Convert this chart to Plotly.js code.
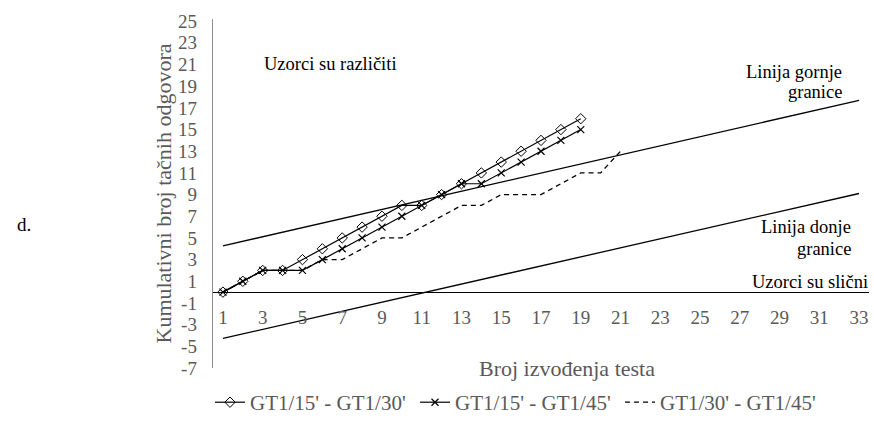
<!DOCTYPE html>
<html>
<head>
<meta charset="utf-8">
<script src="https://cdn.plot.ly/plotly-3.0.1.min.js"></script>
<style>html,body{margin:0;padding:0;background:#fff;}#chart{width:874px;height:428px;}</style>
</head>
<body>
<div id="chart"></div>
<script>
// ---- data ----
const trialsA = [1,2,3,4,5,6,7,8,9,10,11,12,13,14,15,16,17,18,19];
const trialsB = [1,2,3,4,5,6,7,8,9,10,11,12,13,14,15,16,17,18,19,20,21];
const gt15_30 = [0,1,2,2,3,4,5,6,7,8,8,9,10,11,12,13,14,15,16];
const gt15_45 = [0,1,2,2,2,3,4,5,6,7,8,9,10,10,11,12,13,14,15];
const gt30_45 = [0,1,2,2,2,3,3,4,5,5,6,7,8,8,9,9,9,10,11,11,13];
const boundTrials = [1, 33];
const upperBound = [4.27, 17.7];
const lowerBound = [-4.27, 9.1];
const seriesNames = ["GT1/15' - GT1/30'", "GT1/15' - GT1/45'", "GT1/30' - GT1/45'"];
const xTickVals = [1,3,5,7,9,11,13,15,17,19,21,23,25,27,29,31,33];
const yTickVals = [-7,-5,-3,-1,1,3,5,7,9,11,13,15,17,19,21,23,25];

const FONT = "Liberation Serif, Times New Roman, serif";
const GRAY = "#595959";

const traces = [
  {x: boundTrials, y: upperBound, mode: 'lines', line: {color: '#000', width: 1.3}, showlegend: false, hoverinfo: 'skip'},
  {x: boundTrials, y: lowerBound, mode: 'lines', line: {color: '#000', width: 1.3}, showlegend: false, hoverinfo: 'skip'},
  {x: trialsB, y: gt30_45, name: seriesNames[2], mode: 'lines', line: {color: '#000', width: 1.3, dash: '5px,4px'}, legendrank: 3},
  {x: trialsA, y: gt15_45, name: seriesNames[1], mode: 'lines+markers', line: {color: '#000', width: 1.2},
   marker: {symbol: 'x-thin-open', size: 7, color: '#000', line: {color: '#000', width: 1.2}}, legendrank: 2},
  {x: trialsA, y: gt15_30, name: seriesNames[0], mode: 'lines+markers', line: {color: '#000', width: 1.2},
   marker: {symbol: 'diamond-open', size: 8, color: '#000', line: {color: '#000', width: 1}}, legendrank: 1}
];

const layout = {
  width: 874, height: 428,
  margin: {l: 213, r: 5, t: 19, b: 51},
  paper_bgcolor: '#fff', plot_bgcolor: '#fff',
  font: {family: FONT, color: GRAY, size: 19},
  showlegend: true,
  legend: {orientation: 'h', x: -3/656, xanchor: 'left', y: -0.099, yanchor: 'middle',
           font: {family: FONT, size: 21, color: GRAY}, entrywidth: 160, traceorder: 'normal',
           bgcolor: 'rgba(0,0,0,0)', itemclick: false},
  xaxis: {
    range: [0.5, 33.5], anchor: 'free', position: 7/32.2,
    tickvals: xTickVals, ticktext: xTickVals.map(String),
    showgrid: false, zeroline: false, showline: true, linecolor: '#000', linewidth: 1,
    ticks: 'outside', ticklen: 8, tickcolor: 'rgba(0,0,0,0)',
    tickfont: {family: FONT, size: 19, color: GRAY}, fixedrange: true
  },
  yaxis: {
    range: [-7, 25.2], tickvals: yTickVals, ticktext: yTickVals.map(String),
    showgrid: false, zeroline: false, showline: true, linecolor: '#8c8c8c', linewidth: 1.3,
    ticks: 'outside', ticklen: 11, tickcolor: 'rgba(0,0,0,0)',
    tickfont: {family: FONT, size: 19, color: GRAY},
    title: {text: 'Kumulativni broj tačnih odgovora', font: {family: FONT, size: 22, color: GRAY}, standoff: 0},
    fixedrange: true
  },
  annotations: [
    {xref: 'paper', yref: 'paper', x: (567-213)/656, y: (377-378)/358, xanchor: 'center', yanchor: 'middle',
     text: 'Broj izvođenja testa', showarrow: false, font: {family: FONT, size: 22, color: GRAY}},
    {xref: 'paper', yref: 'paper', x: (330-213)/656, y: (377-65)/358, xanchor: 'center', yanchor: 'middle',
     text: 'Uzorci su različiti', showarrow: false, font: {family: FONT, size: 18.5, color: '#000'}},
    {xref: 'paper', yref: 'paper', x: (844-213)/656, y: (377-73)/358, xanchor: 'right', yanchor: 'middle',
     text: 'Linija gornje', showarrow: false, font: {family: FONT, size: 18.5, color: '#000'}},
    {xref: 'paper', yref: 'paper', x: (844-213)/656, y: (377-94)/358, xanchor: 'right', yanchor: 'middle',
     text: 'granice', showarrow: false, font: {family: FONT, size: 18.5, color: '#000'}},
    {xref: 'paper', yref: 'paper', x: (853-213)/656, y: (377-232)/358, xanchor: 'right', yanchor: 'middle',
     text: 'Linija donje', showarrow: false, font: {family: FONT, size: 18.5, color: '#000'}},
    {xref: 'paper', yref: 'paper', x: (853-213)/656, y: (377-255)/358, xanchor: 'right', yanchor: 'middle',
     text: 'granice', showarrow: false, font: {family: FONT, size: 18.5, color: '#000'}},
    {xref: 'paper', yref: 'paper', x: (870-213)/656, y: (377-289)/358, xanchor: 'right', yanchor: 'middle',
     text: 'Uzorci su slični', showarrow: false, font: {family: FONT, size: 18.5, color: '#000'}},
    {xref: 'paper', yref: 'paper', x: (24-213)/656, y: (377-230)/358, xanchor: 'center', yanchor: 'middle',
     text: 'd.', showarrow: false, font: {family: FONT, size: 19, color: '#000'}}
  ]
};

Plotly.newPlot('chart', traces, layout, {staticPlot: true, displayModeBar: false});
</script>
</body>
</html>
